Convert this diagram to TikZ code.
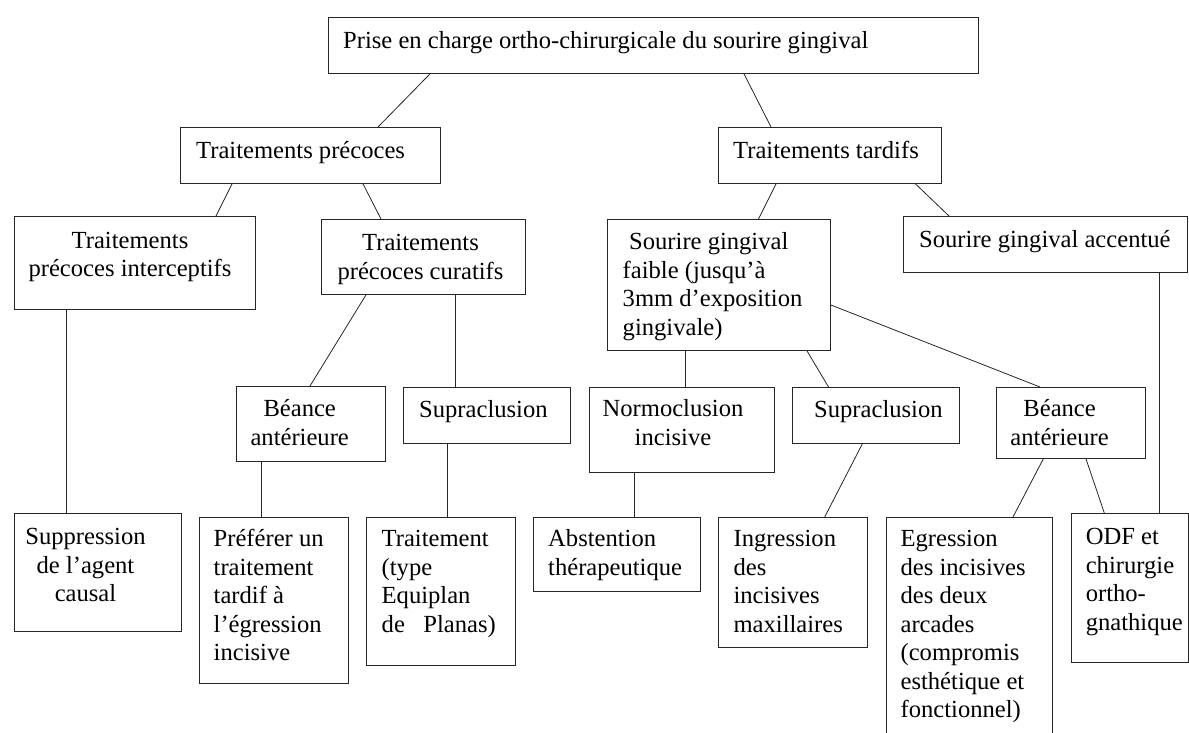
\documentclass[tikz,border=0pt]{standalone}
\usepackage{fontspec}
\setmainfont{Liberation Serif}
\usetikzlibrary{calc}
\tikzset{
  boxnode/.style={draw=black!85, line width=0.9pt, rectangle, inner sep=0pt, anchor=north west},
  link/.style={draw=black!85, line width=0.8pt},
  txl/.style={inner sep=0pt, anchor=north west, align=left, yshift=-1.5pt, font=\fontsize{24.6}{28.5}\selectfont},
  txc/.style={inner sep=0pt, anchor=north, align=center, yshift=-1.5pt, font=\fontsize{24.6}{28.5}\selectfont},
}
\newcommand\mkbox[5]{\node[boxnode, minimum width={#4-#2}, minimum height={#5-#3}] (#1) at (#2,#3) {};}
\begin{document}
\begin{tikzpicture}[x=1pt,y=-1pt]
\useasboundingbox (0,0) rectangle (1189,733);
\clip (0,0) rectangle (1189,733);
% boxes
\mkbox{root}{328}{17}{978}{73}
\mkbox{TP}{180}{127}{440}{183}
\mkbox{TT}{718}{127}{941}{183}
\mkbox{TPI}{14}{216}{254.5}{309}
\mkbox{TPC}{321}{219}{525}{294}
\mkbox{SGF}{607}{219}{830}{350}
\mkbox{SGA}{903}{216}{1187}{272}
\mkbox{BA1}{236}{386}{385}{461}
\mkbox{SupraA}{403}{387}{570}{443}
\mkbox{Normo}{588.5}{387}{774}{472}
\mkbox{SupraB}{792}{387}{959}{443}
\mkbox{BA2}{996}{387}{1145}{458}
\mkbox{Supp}{14}{513}{181}{631}
\mkbox{Pref}{199}{517}{347.5}{683}
\mkbox{Trait}{366}{517}{515}{665}
\mkbox{Abst}{533}{517}{700}{591}
\mkbox{Ingr}{718}{517}{867}{647}
\mkbox{Egr}{886}{517}{1052}{745}
\mkbox{ODF}{1071}{513}{1188}{662}
% texts
\node[txl] (rootT) at (343,26.5) {\strut Prise en charge ortho-chirurgicale du sourire gingival};
\node[txl] (TPT) at (196,136.5) {\strut Traitements précoces};
\node[txl] (TTT) at (733,136.5) {\strut Traitements tardifs};
\node[txc] (TPIT) at (130,226.5) {\strut Traitements\\précoces interceptifs};
\node[txc] (TPCT) at (420.5,229) {\strut Traitements\\précoces curatifs};
\node[txl] (SGFT) at (622.5,228) {\strut\hspace*{6.5pt}Sourire gingival\\faible (jusqu’à\\3mm d’exposition\\gingivale)};
\node[txl] (SGAT) at (919,226) {\strut Sourire gingival accentué};
\node[txc] (BA1T) at (299.7,395) {\strut Béance\\antérieure};
\node[txl] (SupraAT) at (419,396) {\strut Supraclusion};
\node[txc] (NormoT) at (673,395) {\strut Normoclusion\\incisive};
\node[txl] (SupraBT) at (814,396) {\strut Supraclusion};
\node[txc] (BA2T) at (1059.6,395) {\strut Béance\\antérieure};
\node[txc] (SuppT) at (85.5,523) {\strut Suppression\\de l’agent\\causal};
\node[txl] (PrefT) at (213.5,525) {\strut Préférer un\\traitement\\tardif à\\l’égression\\incisive};
\node[txl] (TraitT) at (381.5,525) {\strut Traitement\\(type\\Equiplan\\de~~~Planas)};
\node[txl] (AbstT) at (548,525) {\strut Abstention\\thérapeutique};
\node[txl] (IngrT) at (733.4,525) {\strut Ingression\\des\\incisives\\maxillaires};
\node[txl] (EgrT) at (900.4,525) {\strut Egression\\des incisives\\des deux\\arcades\\(compromis\\esthétique et\\fonctionnel)};
\node[txl] (ODFT) at (1085.6,523) {\strut ODF et\\chirurgie\\ortho-\\gnathique};
% connectors
\draw[link] ($(root.south west)+(102,0)$) -- ($(TP.north west)+(198,0)$);
\draw[link] ($(root.south west)+(416,0)$) -- ($(TT.north west)+(53,0)$);
\draw[link] ($(TP.south west)+(52,0)$) -- ($(TPI.north west)+(202,0)$);
\draw[link] ($(TP.south west)+(183,0)$) -- ($(TPC.north west)+(60,0)$);
\draw[link] ($(TT.south west)+(58,0)$) -- ($(SGF.north west)+(151.5,0)$);
\draw[link] ($(TT.south west)+(197.5,0)$) -- ($(SGA.north west)+(46,0)$);
\draw[link] ($(TPI.south west)+(52,0)$) -- ($(Supp.north west)+(52,0)$);
\draw[link] ($(TPC.south west)+(45,0)$) -- ($(BA1.north west)+(74,0)$);
\draw[link] ($(TPC.south west)+(134.4,0)$) -- ($(SupraA.north west)+(52.4,0)$);
\draw[link] ($(BA1.south west)+(25.4,0)$) -- ($(Pref.north west)+(62.4,0)$);
\draw[link] ($(SupraA.south west)+(44.8,0)$) -- ($(Trait.north west)+(81.8,0)$);
\draw[link] ($(SGF.south west)+(78.6,0)$) -- ($(Normo.north west)+(97.1,0)$);
\draw[link] ($(SGF.south west)+(200,0)$) -- ($(SupraB.north west)+(36.5,0)$);
\draw[link] ($(SGF.north east)+(0,86)$) -- ($(BA2.north west)+(44,0)$);
\draw[link] ($(Normo.south west)+(46.3,0)$) -- ($(Abst.north west)+(101.8,0)$);
\draw[link] ($(SupraB.south west)+(70.3,0)$) -- ($(Ingr.north west)+(106.7,0)$);
\draw[link] ($(BA2.south west)+(47.3,0)$) -- ($(Egr.north west)+(127,0)$);
\draw[link] ($(BA2.south west)+(90,0)$) -- ($(ODF.north west)+(33.3,0)$);
\draw[link] ($(SGA.south west)+(256,0)$) -- ($(ODF.north west)+(88,0)$);
\end{tikzpicture}
\end{document}
